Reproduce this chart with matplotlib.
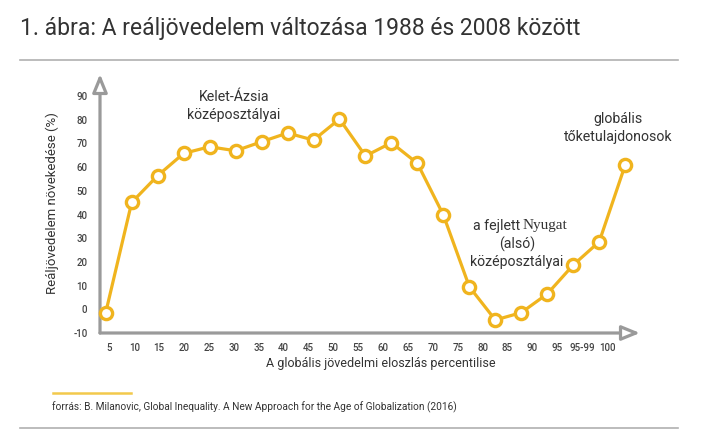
import matplotlib
matplotlib.use("Agg")
import matplotlib.pyplot as plt

# ---- data ----
categories = ["5", "10", "15", "20", "25", "30", "35", "40", "45", "50",
              "55", "60", "65", "70", "75", "80", "85", "90", "95", "95-99", "100"]
growth = [-1.4, 45.1, 56.4, 65.8, 68.6, 66.9, 70.7, 74.4, 71.4, 80.3,
          64.7, 70.3, 61.6, 39.8, 9.5, -4.5, -1.4, 6.5, 18.7, 28.5, 60.9]
yticks = [-10, 0, 10, 20, 30, 40, 50, 60, 70, 80, 90]

title = "1. ábra: A reáljövedelem változása 1988 és 2008 között"
ylabel = "Reáljövedelem növekedése (%)"
xlabel = "A globális jövedelmi eloszlás percentilise"
source = "forrás: B. Milanovic, Global Inequality. A New Approach for the Age of Globalization (2016)"

YELLOW = "#F0B41E"
AXIS = "#9a9a9a"
TXT = "#333333"
FONT = "Roboto"

W, H = 727, 445
fig = plt.figure(figsize=(W / 100, H / 100), dpi=100)
plt.rcParams["font.family"] = [FONT, "DejaVu Sans"]

def fx(px):
    return px / W

def fy(py):
    return 1 - py / H

ax = fig.add_axes([fx(100), fy(333), fx(640) - fx(100), fy(74) - fy(333)])
x = list(range(len(categories)))
xmin, xmax = -0.22, 20.57
ymin, ymax = -10, 99.3
ax.set_xlim(xmin, xmax)
ax.set_ylim(ymin, ymax)
for s in ax.spines.values():
    s.set_visible(False)

ax.plot(x, growth, color=YELLOW, lw=2.3, marker="o", markersize=8.8,
        markerfacecolor="white", markeredgecolor=YELLOW, markeredgewidth=2.4,
        zorder=3, clip_on=False)

arrow_kw = dict(arrowstyle="-|>,head_length=1.1,head_width=0.45", color=AXIS,
                lw=2.3, shrinkA=0, shrinkB=0, fc="white", ec=AXIS)
ax.annotate("", xy=(xmax, ymin), xytext=(xmin, ymin), arrowprops=arrow_kw,
            annotation_clip=False, zorder=2)
ax.annotate("", xy=(xmin, ymax), xytext=(xmin, ymin), arrowprops=arrow_kw,
            annotation_clip=False, zorder=2)

tick_pos = [0.14 + 0.958 * i for i in range(len(categories))]
ax.set_xticks(tick_pos)
ax.set_xticklabels(categories, fontweight="medium")
ax.set_yticks(yticks)
ax.set_yticklabels([str(v) for v in yticks], fontweight="medium")
ax.tick_params(axis="both", length=0, labelsize=7, labelcolor="#444444")
ax.tick_params(axis="x", pad=7)
ax.tick_params(axis="y", pad=9)

ax.set_xlabel(xlabel, fontsize=9, color=TXT)
ax.xaxis.set_label_coords((381 - 100) / 540, -(363 - 333) / 259, transform=ax.transAxes)
ax.xaxis.label.set_va("center")
ax.set_ylabel(ylabel, fontsize=9.5, color=TXT, labelpad=10)

fig.text(fx(20), fy(29), title, fontsize=16.5, color=TXT, ha="left", va="center")
fig.add_artist(plt.Line2D([fx(20), fx(678)], [fy(60), fy(60)], color="#b0b0b0", lw=1.2))
fig.add_artist(plt.Line2D([fx(20), fx(678)], [fy(428), fy(428)], color="#b0b0b0", lw=1.2))
fig.add_artist(plt.Line2D([fx(53), fx(131)], [fy(393), fy(393)], color="#F2C94C", lw=1.8))
fig.text(fx(52), fy(407), source, fontsize=7.3, color=TXT, ha="left", va="center")

AFS = 10.2
fig.text(fx(234), fy(106), "Kelet-Ázsia\nközéposztályai", fontsize=AFS, color=TXT,
         ha="center", va="center", linespacing=1.3)
fig.text(fx(618), fy(128), "globális\ntőketulajdonosok", fontsize=AFS, color=TXT,
         ha="center", va="center", linespacing=1.3)
fig.text(fx(520), fy(226), "a fejlett", fontsize=AFS, color=TXT, ha="right", va="center")
fig.text(fx(523), fy(226), "Nyugat", fontsize=11, color=TXT, ha="left", va="center",
         family=["Liberation Serif", "DejaVu Serif"])
fig.text(fx(517), fy(244), "(alsó)", fontsize=AFS, color=TXT, ha="center", va="center")
fig.text(fx(517), fy(262), "középosztályai", fontsize=AFS, color=TXT, ha="center", va="center")

fig.savefig("out.png", dpi=100, facecolor="white")
